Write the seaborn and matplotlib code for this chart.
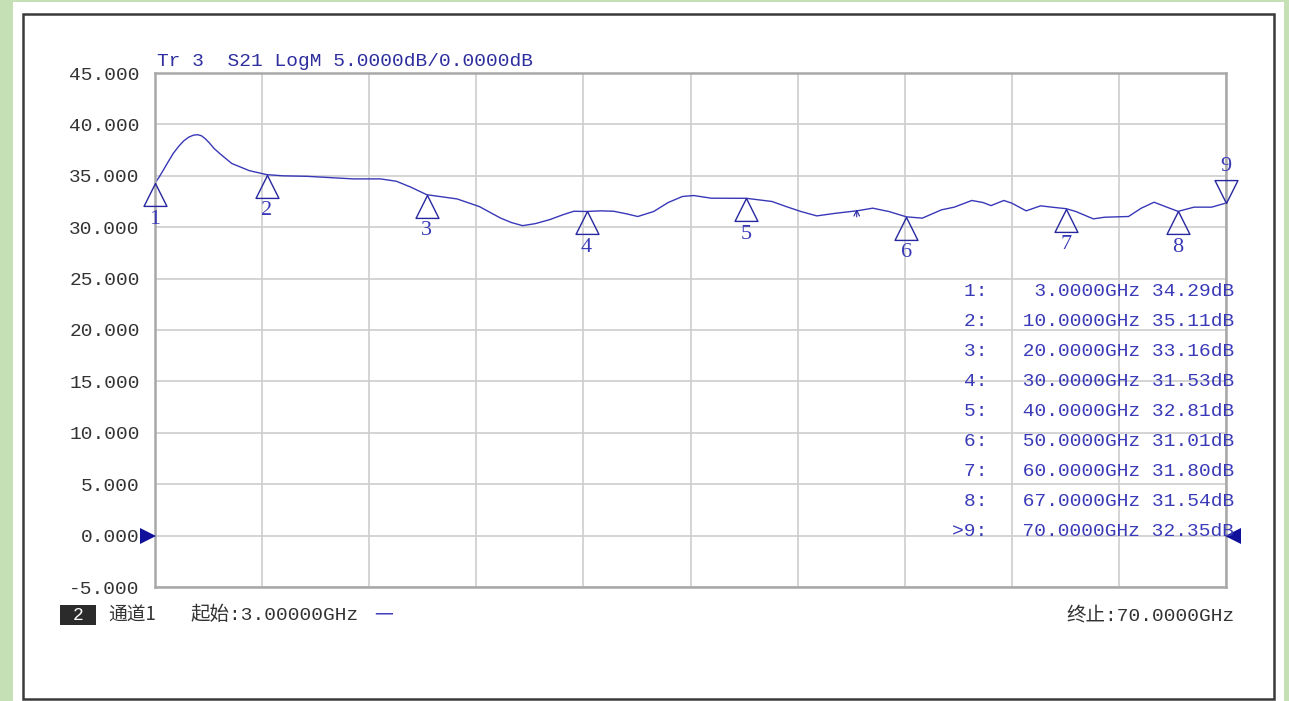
import matplotlib
matplotlib.use("Agg")
import matplotlib.pyplot as plt
from matplotlib.patches import Rectangle
from matplotlib.ticker import FuncFormatter
import seaborn as sns
import numpy as np

# S21 trace (GHz, dB)
freq = [3.0, 3.25, 3.5, 3.8, 4.15, 4.5, 4.8, 5.1, 5.4, 5.65, 5.9, 6.15, 6.4, 6.7, 7.1, 7.8,
        8.9, 10.0, 11.0, 12.5, 15.4, 17.1, 18.1, 19.0, 20.0, 21.9, 23.3, 24.6, 25.3, 26.0,
        26.8, 27.7, 28.5, 29.2, 30.0, 30.9, 31.7, 32.5, 33.2, 34.2, 35.1, 36.0, 36.7, 37.8,
        40.0, 41.6, 42.5, 43.4, 44.4, 45.6, 46.9, 47.9, 48.9, 50.0, 51.0, 52.2, 53.0, 54.1,
        54.8, 55.3, 56.1, 56.6, 57.5, 58.4, 59.1, 60.0, 60.6, 61.7, 62.4, 63.9, 64.7, 65.5,
        66.3, 67.0, 68.0, 69.1, 70.0]
gain = [34.29, 34.85, 35.5, 36.3, 37.2, 37.9, 38.4, 38.75, 38.95, 39.0, 38.9, 38.6, 38.2,
        37.65, 37.1, 36.2, 35.5, 35.11, 35.0, 34.95, 34.7, 34.7, 34.47, 33.9, 33.16, 32.75,
        32.0, 30.9, 30.45, 30.15, 30.35, 30.74, 31.2, 31.55, 31.53, 31.59, 31.55, 31.3, 31.04,
        31.53, 32.4, 32.99, 33.08, 32.82, 32.81, 32.5, 32.0, 31.53, 31.1, 31.36, 31.59, 31.85,
        31.53, 31.01, 30.88, 31.69, 31.95, 32.6, 32.4, 32.1, 32.6, 32.34, 31.59, 32.08, 31.95,
        31.80, 31.53, 30.81, 30.97, 31.04, 31.85, 32.43, 31.95, 31.54, 31.95, 31.95, 32.35]

mk_id = [1, 2, 3, 4, 5, 6, 7, 8, 9]
mk_freq = [3.0, 10.0, 20.0, 30.0, 40.0, 50.0, 60.0, 67.0, 70.0]
mk_gain = [34.29, 35.11, 33.16, 31.53, 32.81, 31.01, 31.80, 31.54, 32.35]

start_f, stop_f = 3.0, 70.0
ymin, ymax, ydiv = -5, 45, 5

trace_c = "#3838b8"
mk_c = "#2626a0"
txt_c = "#3a3ab8"
mono = ["Liberation Mono", "Noto Sans CJK SC"]

sns.set_style("white")
plt.rcParams["font.family"] = mono

fig = plt.figure(figsize=(12.89, 7.01), dpi=100, facecolor="#c6e0b6")
W, H = 1289, 701
fig.patches.append(Rectangle((13 / W, 0), 1271 / W, 699 / H, transform=fig.transFigure,
                             facecolor="white", edgecolor="none", zorder=-2))
fig.patches.append(Rectangle((23 / W, 2 / H), 1251 / W, 685 / H, transform=fig.transFigure,
                             facecolor="white", edgecolor="#3a3a3a", lw=1.8, zorder=-1))

ax = fig.add_axes([155 / W, 1 - 587 / H, 1071 / W, 514 / H])
ax.set_facecolor("white")

sns.lineplot(x=freq, y=gain, sort=False, estimator=None, color=trace_c, lw=1.0, ax=ax)

# marker triangles: apex on the trace
up_tri = [(0, 0), (-0.5, -1), (0.5, -1), (0, 0)]
dn_tri = [(0, 0), (-0.5, 1), (0.5, 1), (0, 0)]
for i, f, g in zip(mk_id, mk_freq, mk_gain):
    last = i == mk_id[-1]
    ax.plot([f], [g], marker=dn_tri if last else up_tri, ms=33, mfc="none", mec=mk_c,
            mew=1.0, ls="none", clip_on=False, zorder=5)
    ax.annotate(str(i), (f, g), xytext=(0, 26 if last else -26), textcoords="offset points",
                ha="center", va="center", fontsize=16, color=txt_c,
                family="Liberation Serif", annotation_clip=False)

# small active-marker arrow
ax.annotate("", xy=(46.9, 31.75), xytext=(46.9, 31.0),
            arrowprops=dict(arrowstyle="->", color=mk_c, lw=0.8, shrinkA=0, shrinkB=0))

# reference level pointers
ax.plot([start_f - 0.45], [0], marker=">", ms=11, color="#10109a", mew=0, clip_on=False, zorder=6)
ax.plot([stop_f + 0.45], [0], marker="<", ms=11, color="#10109a", mew=0, clip_on=False, zorder=6)

ax.set_xlim(start_f, stop_f)
ax.set_ylim(ymin, ymax)
ax.set_xticks(np.linspace(start_f, stop_f, 11))
ax.set_yticks(np.arange(ymin, ymax + 1, ydiv))
ax.set_xticklabels([])
ax.yaxis.set_major_formatter(FuncFormatter(lambda v, p: "{:.3f}".format(v)))
ax.tick_params(axis="both", length=0)
ax.tick_params(axis="y", pad=11, labelsize=14, labelcolor="#333333")
ax.grid(True, color="#cdcdcd", lw=1.2)
for s in ax.spines.values():
    s.set_color("#a8a8a8")
    s.set_linewidth(1.8)
ax.set_xlabel("")
ax.set_ylabel("")

fig.text(157 / W, 1 - 61 / H, "Tr 3  S21 LogM 5.0000dB/0.0000dB", fontsize=14,
         color="#2e2e9e", va="center", ha="left")

# marker table
for k, (i, f, g) in enumerate(zip(mk_id, mk_freq, mk_gain)):
    pre = ">" if i == mk_id[-1] else ""
    line = "{}{}:{:>13} {:.2f}dB".format(pre, i, "{:.4f}GHz".format(f), g)
    fig.text(1234 / W, 1 - (292 + k * 29.9) / H, line, fontsize=14, color=txt_c,
             ha="right", va="center")

# status bar
fig.patches.append(Rectangle((60 / W, 1 - 625 / H), 36 / W, 20 / H, transform=fig.transFigure,
                             facecolor="#2b2b2b", edgecolor="none"))
fig.text(78 / W, 1 - 615 / H, "2", color="white", fontsize=13, ha="center", va="center")
fig.text(108 / W, 1 - 615 / H, "通道1", color="#333333", fontsize=13.5, va="center",
         family=["Noto Sans CJK SC", "Liberation Mono"])
fig.text(190 / W, 1 - 615 / H, "起始:3.00000GHz", color="#333333", fontsize=14, va="center")
fig.text(374 / W, 1 - 615 / H, "一", color="#4040c0", fontsize=13.5, va="center",
         family=["Noto Sans CJK SC"])
fig.text(1235 / W, 1 - 615 / H, "终止:70.0000GHz", color="#333333", fontsize=14,
         va="center", ha="right")

fig.savefig("out.png", dpi=100, facecolor=fig.get_facecolor())
